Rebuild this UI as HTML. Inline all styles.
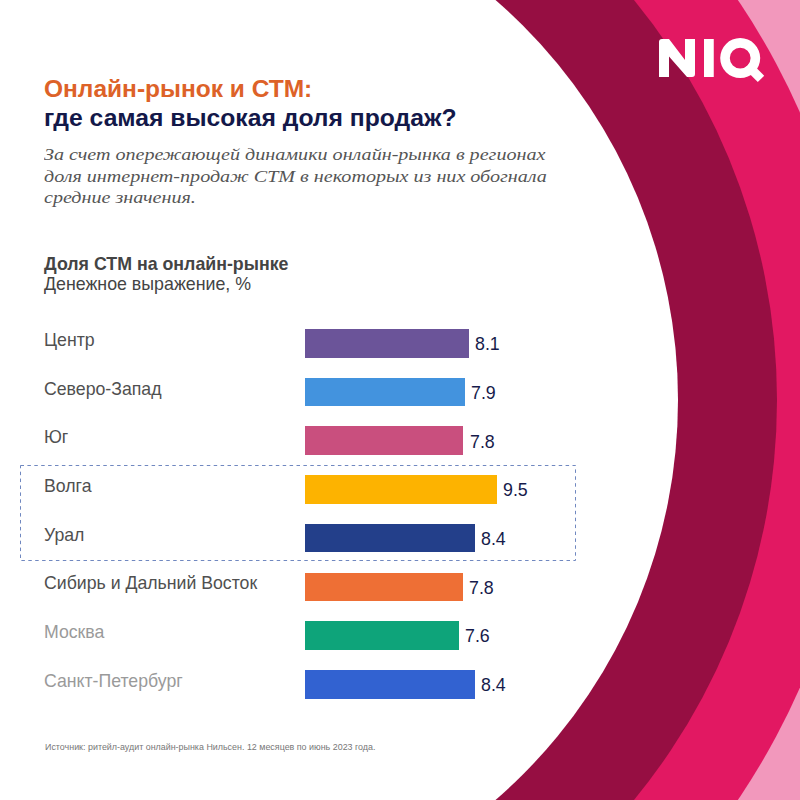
<!DOCTYPE html>
<html><head><meta charset="utf-8">
<style>
html,body{margin:0;padding:0;}
body{width:800px;height:800px;position:relative;overflow:hidden;background:#fff;font-family:"Liberation Sans",sans-serif;}
.t{position:absolute;white-space:nowrap;line-height:1;}
#bg{position:absolute;left:0;top:0;}
.bar{position:absolute;left:305px;height:28.5px;}
.lab{position:absolute;left:44px;font-size:17.7px;color:#505050;white-space:nowrap;line-height:16px;}
.val{position:absolute;font-size:17.8px;color:#161b4b;white-space:nowrap;line-height:17px;}
</style></head><body>
<svg id="bg" width="800" height="800" viewBox="0 0 800 800">
  <rect x="0" y="0" width="800" height="800" fill="#F298BC"/>
  <circle cx="147" cy="400" r="713.5" fill="#E21862"/>
  <circle cx="146.1" cy="400" r="630.9" fill="#960E42"/>
  <circle cx="148.4" cy="400" r="529.6" fill="#fff"/>
  <!-- NIQ -->
  <g fill="#fff">
    <path d="M659 77 L659 42 Q659 39 662 39 L669 39 L685 60 L685 39 L695 39 L695 74 Q695 77 692 77 L687 77 L669 56.5 L669 77 Z"/>
    <rect x="704" y="39" width="9.75" height="38"/>
    <path fill-rule="evenodd" d="M740.2 38.1 A20 20 0 1 1 740.2 78.1 A20 20 0 1 1 740.2 38.1 Z M740.2 47.7 A10.4 10.4 0 1 0 740.2 68.5 A10.4 10.4 0 1 0 740.2 47.7 Z"/>
    <path d="M750.8 62.34 L764.17 75.71 L757.81 82.07 L744.44 68.7 Z"/>
  </g>
  <rect x="20.5" y="465.5" width="555" height="95" fill="none" stroke="#7088c0" stroke-width="1" stroke-dasharray="3.5 3.4"/>
</svg>

<div class="t" style="left:44px;top:77px;font-size:24.5px;font-weight:bold;color:#DD6228;">Онлайн-рынок и СТМ:</div>
<div class="t" style="left:44px;top:106px;font-size:24.7px;font-weight:bold;color:#131849;">где самая высокая доля продаж?</div>
<div class="t" style="left:44px;top:144.4px;font-size:16px;font-style:italic;color:#555;font-family:'Liberation Serif',serif;line-height:21.2px;white-space:nowrap;transform:scaleX(1.255);transform-origin:0 0;">За счет опережающей динамики онлайн-рынка в регионах<br>доля интернет-продаж СТМ в некоторых из них обогнала<br>средние значения.</div>

<div class="t" style="left:44px;top:256px;font-size:17.8px;font-weight:bold;color:#444;">Доля СТМ на онлайн-рынке</div>
<div class="t" style="left:44px;top:276px;font-size:17.8px;color:#444;">Денежное выражение, %</div>

<div class="lab" style="top:332px;">Центр</div>
<div class="lab" style="top:381px;">Северо-Запад</div>
<div class="lab" style="top:429px;">Юг</div>
<div class="lab" style="top:478px;">Волга</div>
<div class="lab" style="top:527px;">Урал</div>
<div class="lab" style="top:575px;">Сибирь и Дальний Восток</div>
<div class="lab" style="top:624px;color:#9a9a9a;">Москва</div>
<div class="lab" style="top:673px;color:#9a9a9a;">Санкт-Петербург</div>

<div class="bar" style="top:329px;width:163.6px;background:#6B5499;"></div>
<div class="bar" style="top:377.7px;width:159.6px;background:#4393DE;"></div>
<div class="bar" style="top:426.4px;width:157.6px;background:#C94F7E;"></div>
<div class="bar" style="top:475.1px;width:191.9px;background:#FDB300;"></div>
<div class="bar" style="top:523.8px;width:169.7px;background:#233F8A;"></div>
<div class="bar" style="top:572.5px;width:157.6px;background:#EE6F35;"></div>
<div class="bar" style="top:621.2px;width:153.5px;background:#0EA47A;"></div>
<div class="bar" style="top:670px;width:169.7px;background:#3262D1;"></div>

<div class="val" style="left:475px;top:336px;">8.1</div>
<div class="val" style="left:471px;top:385px;">7.9</div>
<div class="val" style="left:470px;top:434px;">7.8</div>
<div class="val" style="left:503px;top:482px;">9.5</div>
<div class="val" style="left:481px;top:531px;">8.4</div>
<div class="val" style="left:469px;top:580px;">7.8</div>
<div class="val" style="left:465px;top:628px;">7.6</div>
<div class="val" style="left:481px;top:677px;">8.4</div>

<div class="t" style="left:45px;top:743px;font-size:8.92px;color:#777;">Источник: ритейл-аудит онлайн-рынка Нильсен. 12 месяцев по июнь 2023 года.</div>
</body></html>
